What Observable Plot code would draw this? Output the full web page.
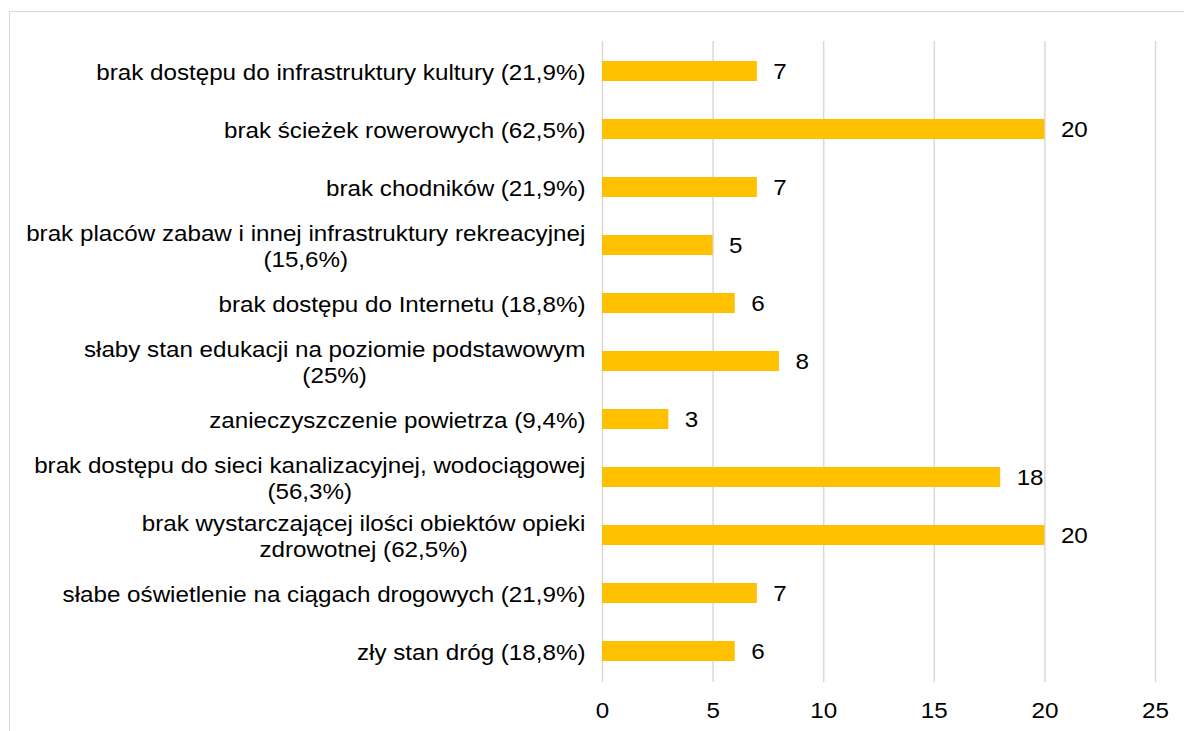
<!DOCTYPE html>
<html>
<head>
<meta charset="utf-8">
<script src="https://cdn.jsdelivr.net/npm/d3@7"></script>
<script src="https://cdn.jsdelivr.net/npm/@observablehq/plot@0.6"></script>
<style>
  html, body { margin: 0; padding: 0; background: #fff; overflow: hidden; }
  #wrap { position: relative; width: 1184px; height: 731px; }
  #frame { position: absolute; left: 9px; top: 11px; width: 1300px; height: 900px; border: 1.5px solid #d9d9d9; box-sizing: border-box; pointer-events: none; }
  #chart { position: absolute; left: 0; top: 0; }
</style>
</head>
<body>
<div id="wrap"><div id="frame"></div><div id="chart"></div></div>
<script>
const categories = [
  "brak dostępu do infrastruktury kultury (21,9%)",
  "brak ścieżek rowerowych (62,5%)",
  "brak chodników (21,9%)",
  "brak placów zabaw i innej infrastruktury rekreacyjnej (15,6%)",
  "brak dostępu do Internetu (18,8%)",
  "słaby stan edukacji na poziomie podstawowym (25%)",
  "zanieczyszczenie powietrza (9,4%)",
  "brak dostępu do sieci kanalizacyjnej, wodociągowej (56,3%)",
  "brak wystarczającej ilości obiektów opieki zdrowotnej (62,5%)",
  "słabe oświetlenie na ciągach drogowych (21,9%)",
  "zły stan dróg (18,8%)"
];
const tickLabels = [
  "brak dostępu do infrastruktury kultury (21,9%)",
  "brak ścieżek rowerowych (62,5%)",
  "brak chodników (21,9%)",
  "brak placów zabaw i innej infrastruktury rekreacyjnej\n(15,6%)",
  "brak dostępu do Internetu (18,8%)",
  "słaby stan edukacji na poziomie podstawowym\n(25%)",
  "zanieczyszczenie powietrza (9,4%)",
  "brak dostępu do sieci kanalizacyjnej, wodociągowej\n(56,3%)",
  "brak wystarczającej ilości obiektów opieki\nzdrowotnej (62,5%)",
  "słabe oświetlenie na ciągach drogowych (21,9%)",
  "zły stan dróg (18,8%)"
];
const values = [7, 20, 7, 5, 6, 8, 3, 18, 20, 7, 6];
const xTicks = [0, 5, 10, 15, 20, 25];

const data = categories.map((c, i) => ({category: c, value: values[i]}));
const labelOf = new Map(categories.map((c, i) => [c, tickLabels[i]]));

const FONT = "'Liberation Sans', Arial, sans-serif";
const FS = 22;
const STRETCH = 1.1; // reference glyphs are slightly wider than the font's natural width

const chart = Plot.plot({
  width: 1184,
  height: 731,
  marginTop: 41,
  marginBottom: 49,
  marginLeft: 602,
  marginRight: 29,
  style: {fontFamily: FONT, fontSize: FS + "px", color: "#000", background: "transparent"},
  x: {domain: [0, 25], ticks: xTicks},
  y: {domain: categories, paddingInner: 0.65, paddingOuter: 0.325},
  marks: [
    Plot.gridX(xTicks, {stroke: "#d9d9d9", strokeOpacity: 1, strokeWidth: 1.5}),
    Plot.barX(data, {x: "value", y: "category", fill: "#FFC000"}),
    Plot.text(data, {x: "value", y: "category", text: d => String(d.value), textAnchor: "start", dx: 16, fontSize: FS, fill: "#000"}),
    Plot.axisX(xTicks, {tickSize: 0, tickPadding: 20, fontSize: FS, label: null, fill: "#000"}),
    Plot.axisY({tickSize: 0, tickPadding: 17, fontSize: FS, label: null, fill: "#000", lineHeight: 1.18, tickFormat: d => labelOf.get(d)})
  ]
});
document.getElementById("chart").appendChild(chart);

// center the lines of wrapped tick labels within their block (right-aligned block)
chart.querySelectorAll('g[aria-label="y-axis tick label"] text').forEach(t => {
  const spans = t.querySelectorAll("tspan");
  if (spans.length > 1) {
    const w = t.getBBox().width;
    t.setAttribute("text-anchor", "middle");
    spans.forEach(s => s.setAttribute("x", -w / 2));
  }
});
// widen glyphs horizontally around each text's anchor
chart.querySelectorAll("text").forEach(t => {
  const tr = t.getAttribute("transform") || "";
  t.setAttribute("transform", (tr + ` scale(${STRETCH},1)`).trim());
});
</script>
</body>
</html>
